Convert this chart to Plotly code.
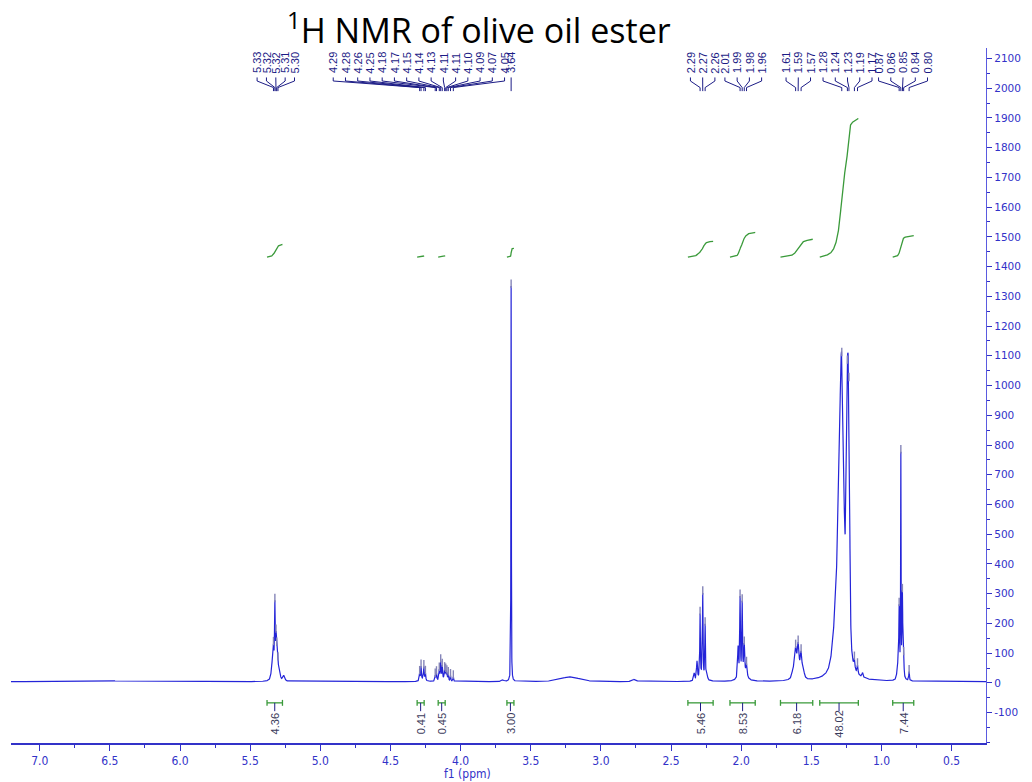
import numpy as np
import plotly.graph_objects as go

# ---------------- data ----------------
# spectral lines: centre (ppm), amplitude, half-width (ppm)
line_ppm = [6.55,
            5.345, 5.334, 5.324, 5.316, 5.311, 5.302, 5.29, 5.26, 5.32,
            4.292, 4.282, 4.262, 4.251, 4.181, 4.172, 4.152, 4.142, 4.131, 4.114,
            4.106, 4.098, 4.088, 4.072, 4.052, 4.27, 4.13,
            3.70, 3.640, 3.22, 2.76,
            2.335, 2.315, 2.293, 2.274, 2.257, 2.245, 2.28,
            2.022, 2.008, 1.993, 1.978, 1.962, 1.99,
            1.63, 1.612, 1.594, 1.573, 1.555, 1.60,
            1.31, 1.284, 1.243, 1.232, 1.193, 1.171, 1.135,
            0.885, 0.874, 0.862, 0.851, 0.842, 0.803, 0.86]
line_amp = [3,
            40, 90, 230, 100, 70, 45, 20, 18, 25,
            25, 45, 42, 25, 18, 25, 32, 58, 42, 32,
            28, 25, 22, 18, 15, 8, 10,
            6, 1330, 16, 8,
            25, 60, 205, 270, 175, 20, 25,
            100, 255, 232, 95, 40, 30,
            22, 80, 90, 75, 18, 30,
            280, 920, 810, 640, 30, 28, 15,
            40, 220, 715, 260, 60, 30, 40]
line_hwhm = [0.3,
             0.006, 0.004, 0.003, 0.003, 0.004, 0.004, 0.006, 0.008, 0.025,
             0.003, 0.003, 0.003, 0.003, 0.003, 0.003, 0.003, 0.003, 0.003, 0.003,
             0.003, 0.003, 0.003, 0.003, 0.003, 0.02, 0.03,
             0.01, 0.0018, 0.08, 0.015,
             0.005, 0.004, 0.0025, 0.0025, 0.0025, 0.005, 0.025,
             0.004, 0.003, 0.003, 0.004, 0.005, 0.03,
             0.008, 0.007, 0.007, 0.007, 0.008, 0.03,
             0.03, 0.018, 0.009, 0.007, 0.004, 0.004, 0.005,
             0.006, 0.003, 0.0018, 0.003, 0.003, 0.003, 0.015]
baseline_level = 4

# picked peaks (labelled at the top), grouped as in the reference
pick_groups = [
    [5.334, 5.324, 5.316, 5.311, 5.302],
    [4.292, 4.282, 4.262, 4.251, 4.181, 4.172, 4.152, 4.142, 4.131, 4.114,
     4.106, 4.098, 4.088, 4.072, 4.052],
    [3.640],
    [2.293, 2.274, 2.257],
    [2.008, 1.993, 1.978, 1.962],
    [1.612, 1.594, 1.573],
    [1.283, 1.243, 1.232, 1.193, 1.171],
    [0.874, 0.862, 0.851, 0.842, 0.803],
]

# integrals
int_start = [5.38, 4.31, 4.16, 3.67, 2.38, 2.08, 1.72, 1.44, 0.92]
int_end = [5.27, 4.26, 4.11, 3.62, 2.20, 1.90, 1.49, 1.165, 0.77]
int_values = [4.36, 0.41, 0.45, 3.00, 5.46, 8.53, 6.18, 48.02, 7.44]

x_ticks = [7.0, 6.5, 6.0, 5.5, 5.0, 4.5, 4.0, 3.5, 3.0, 2.5, 2.0, 1.5, 1.0, 0.5]
y_ticks = list(range(-100, 2101, 100))

# ---------------- style ----------------
BLUE = "#3232c8"
SPEC = "#2424d8"
NAVY = "#1c1c86"
GREEN = "#3a9a3a"
X_RANGE = [7.205, 0.255]
Y_RANGE = [-202, 2135]
PX_PER_PPM = 141.0
INT_BASE = 1432
INT_SCALE = 9.7
ETA = 0.5  # Lorentzian fraction of the pseudo-Voigt line shape

# ---------------- spectrum ----------------
ppm = np.round(np.arange(0.255, 7.2055, 0.0005), 4)
spec = np.full(ppm.shape, float(baseline_level))
for c, a, w in zip(line_ppm, line_amp, line_hwhm):
    u = (ppm - c) / w
    spec += a * (ETA / (1.0 + u ** 2) + (1 - ETA) * np.exp(-np.log(2) * u ** 2))

fig = go.Figure()
fig.add_trace(go.Scatter(x=ppm, y=spec, mode="lines",
                         line=dict(color=SPEC, width=1.2), hoverinfo="skip"))

# integral curves
ix, iy = [], []
for s, e, v in zip(int_start, int_end, int_values):
    m = (ppm <= s) & (ppm >= e)
    xs = ppm[m][::-1]
    ys = spec[m][::-1]
    cs = np.cumsum(ys)
    cs = cs / cs[-1] * v * INT_SCALE + INT_BASE
    ix += list(xs) + [None]
    iy += list(cs) + [None]
fig.add_trace(go.Scatter(x=ix, y=iy, mode="lines",
                         line=dict(color=GREEN, width=1.3), hoverinfo="skip"))

# peak label layout (in ppm units)
spacing_ppm = [9.4 / PX_PER_PPM] + [12.3 / PX_PER_PPM] * (len(pick_groups) - 1)
gap_ppm = 6.6 / PX_PER_PPM
label_pos = []
for g, sp in zip(pick_groups, spacing_ppm):
    c = float(np.mean(g))
    n = len(g)
    label_pos.append([c + (n - 1) / 2 * sp - i * sp for i in range(n)])
for i in range(len(label_pos) - 2, -1, -1):
    need = max(label_pos[i + 1]) + gap_ppm - min(label_pos[i])
    if need > 0:
        label_pos[i] = [p + need for p in label_pos[i]]

LBL_Y, T_TOP, T_BOT, D_BOT, L_BOT = 2085, 2036, 2024, 2002, 1990
lx, ly = [], []
annotations = []
for g, lp in zip(pick_groups, label_pos):
    for p, l in zip(g, lp):
        lx += [l, l, p, p, None]
        ly += [T_TOP, T_BOT, D_BOT, L_BOT, None]
        annotations.append(dict(x=l, y=LBL_Y, xref="x", yref="y", text=f"{p:.2f}",
                                textangle=-90, showarrow=False,
                                font=dict(family="Liberation Sans, Arial, sans-serif",
                                          size=11, color=NAVY),
                                xanchor="center", yanchor="middle"))
fig.add_trace(go.Scatter(x=lx, y=ly, mode="lines",
                         line=dict(color=NAVY, width=1), hoverinfo="skip"))

# peak pick markers
all_picks = [p for g in pick_groups for p in g]
fig.add_trace(go.Scatter(x=all_picks, y=np.interp(all_picks, ppm, spec) + 8,
                         mode="markers", hoverinfo="skip",
                         marker=dict(symbol="line-ns", size=6,
                                     line=dict(width=1.4, color="#8484b8"))))

# integral bars
BAR_Y, CAP, TICK_BOT, INT_LBL_Y = -67, 10, -95, -137
bx, by, tx, ty = [], [], [], []
for s, e, v in zip(int_start, int_end, int_values):
    mid = (s + e) / 2
    bx += [s, e, None, s, s, None, e, e, None]
    by += [BAR_Y, BAR_Y, None, BAR_Y - CAP, BAR_Y + CAP, None, BAR_Y - CAP, BAR_Y + CAP, None]
    tx += [mid, mid, None]
    ty += [BAR_Y, TICK_BOT, None]
    annotations.append(dict(x=mid, y=INT_LBL_Y, xref="x", yref="y", text=f"{v:.2f}",
                            textangle=-90, showarrow=False,
                            font=dict(family="Liberation Sans, Arial, sans-serif",
                                      size=11, color="#3c3c5c"),
                            xanchor="center", yanchor="middle"))
fig.add_trace(go.Scatter(x=bx, y=by, mode="lines",
                         line=dict(color=GREEN, width=1.3), hoverinfo="skip"))
fig.add_trace(go.Scatter(x=tx, y=ty, mode="lines",
                         line=dict(color=NAVY, width=1), hoverinfo="skip"))

# axis title
annotations.append(dict(x=0.468, y=0, xref="paper", yref="paper", yshift=-22,
                        text="f1 (ppm)", showarrow=False, xanchor="center", yanchor="top",
                        font=dict(family="Liberation Sans Narrow, DejaVu Sans Condensed, sans-serif",
                                  size=12, color=BLUE)))

fig.update_layout(
    width=1032, height=782,
    margin=dict(l=11, r=41, t=48, b=39),
    paper_bgcolor="white", plot_bgcolor="white",
    showlegend=False, hovermode=False,
    title=dict(text="<sup>1</sup>H NMR of olive oil ester", x=0.464, xref="container",
               xanchor="center", y=1 - 31 / 782, yref="container", yanchor="middle",
               font=dict(family="Open Sans, Noto Sans, sans-serif", size=34, color="black")),
    annotations=annotations,
    xaxis=dict(range=X_RANGE, showgrid=False, zeroline=False, showline=True,
               linecolor=BLUE, linewidth=1.5, ticks="outside", ticklen=6, tickwidth=1.3,
               tickcolor=BLUE, tickmode="array", tickvals=x_ticks,
               ticktext=[f"{t:.1f}" for t in x_ticks], ticklabelstandoff=0,
               tickfont=dict(family="Liberation Sans Narrow, DejaVu Sans Condensed, sans-serif",
                             size=12, color=BLUE),
               minor=dict(dtick=0.25, ticks="outside", ticklen=3, tickcolor=BLUE, showgrid=False)),
    yaxis=dict(range=Y_RANGE, side="right", showgrid=False, zeroline=False, showline=True,
               linecolor="#5a5ae0", linewidth=1.3, ticks="outside", ticklen=5, tickwidth=1.2,
               tickcolor=BLUE, tickmode="array", tickvals=y_ticks,
               ticktext=[str(t) for t in y_ticks],
               tickfont=dict(family="DejaVu Sans, Verdana, sans-serif", size=10.5, color=BLUE),
               minor=dict(dtick=50, ticks="outside", ticklen=3, tickcolor=BLUE, showgrid=False)),
)

fig.write_html("out.html")
